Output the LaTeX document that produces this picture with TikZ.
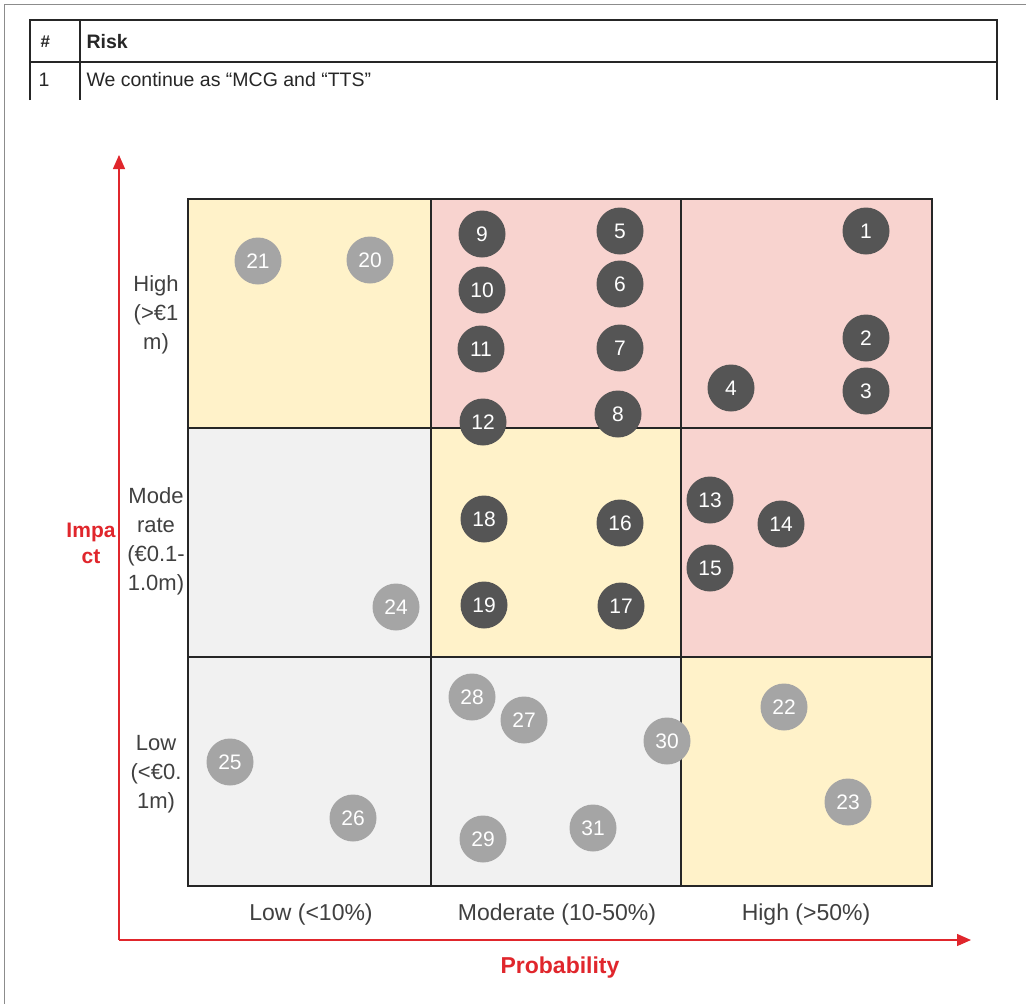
\documentclass[tikz,border=0pt]{standalone}
\usepackage{fontspec}
\setmainfont{Liberation Sans}
\usetikzlibrary{arrows.meta}
\definecolor{cellyellow}{HTML}{FFF2C9}
\definecolor{cellpink}{HTML}{F8D3CF}
\definecolor{cellgray}{HTML}{F1F1F1}
\definecolor{axisred}{HTML}{E0262C}
\definecolor{darkdot}{HTML}{555555}
\definecolor{lightdot}{HTML}{A5A5A5}
\definecolor{labelgray}{HTML}{404040}
\begin{document}
\begin{tikzpicture}[x=1pt,y=-1pt,
  dk/.style={circle,fill=darkdot,minimum size=47pt,inner sep=0pt,text=white,font=\fontsize{21}{21}\selectfont},
  lt/.style={circle,fill=lightdot,minimum size=47pt,inner sep=0pt,text=white,font=\fontsize{21}{21}\selectfont},
  cell/.style={draw=black!85,line width=1.6pt},
  rowlab/.style={align=center,text=labelgray,font=\fontsize{22}{29}\selectfont},
  collab/.style={text=labelgray,font=\fontsize{23}{26}\selectfont},
  axis/.style={draw=axisred,line width=1.3pt,-{Triangle[length=14pt,width=12pt]}},
  axlab/.style={text=axisred,font=\bfseries\fontsize{21}{26}\selectfont,align=center},
  tab/.style={font=\fontsize{19.5}{20}\selectfont,text=black!85,anchor=west}]
\useasboundingbox (0,0) rectangle (1026,1004);
\fill[white] (0,0) rectangle (1026,1004);
% page frame
\draw[black!45,line width=1pt] (1026,4) -- (4,4) -- (4,1004);

% risk table
\draw[black!85,line width=1.2pt] (30,100) -- (30,20) -- (997,20) -- (997,100);
\draw[black!85,line width=1.2pt] (30,62) -- (997,62);
\draw[black!85,line width=1.2pt] (80,20) -- (80,100);
\node[tab,font=\bfseries\fontsize{17}{18}\selectfont] (hnum) at (37,42) {\#};
\node[tab,font=\bfseries\fontsize{19.5}{20}\selectfont] (hrisk) at (83,42) {Risk};
\node[tab] (r1num) at (35,80) {1};
\node[tab] (r1txt) at (83,80) {We continue as “MCG and “TTS”};

% matrix cells
\fill[cellyellow] (188,199) rectangle (431,428);
\fill[cellpink] (431,199) rectangle (681,428);
\fill[cellpink] (681,199) rectangle (932,428);
\fill[cellgray] (188,428) rectangle (431,657);
\fill[cellyellow] (431,428) rectangle (681,657);
\fill[cellpink] (681,428) rectangle (932,657);
\fill[cellgray] (188,657) rectangle (431,886);
\fill[cellgray] (431,657) rectangle (681,886);
\fill[cellyellow] (681,657) rectangle (932,886);
\draw[cell] (188,199) rectangle (932,886);
\draw[cell] (431,199) -- (431,886);
\draw[cell] (681,199) -- (681,886);
\draw[cell] (188,428) -- (932,428);
\draw[cell] (188,657) -- (932,657);

% axes
\coordinate (origin) at (119,940);
\coordinate (ytip) at (119,155);
\coordinate (xtip) at (971,940);
\draw[axis] (origin) -- (ytip);
\draw[axis] (origin) -- (xtip);
\node[axlab] (impact) at (91,543) {Impa\\ct};
\node[axlab,font=\bfseries\fontsize{23}{26}\selectfont] (prob) at (560,968) {Probability};

% impact bands
\node[rowlab] (high) at (156,315) {High\\(>€1\\m)};
\node[rowlab] (mod) at (156,541) {Mode\\rate\\(€0.1-\\1.0m)};
\node[rowlab] (low) at (156,774) {Low\\(<€0.\\1m)};

% probability bands
\node[collab] (plow) at (311,915) {Low (<10\%)};
\node[collab] (pmod) at (557,915) {Moderate (10-50\%)};
\node[collab] (phigh) at (806,915) {High (>50\%)};

% risks
\node[dk] (k1) at (866,231) {1};
\node[dk] (k2) at (866,338) {2};
\node[dk] (k3) at (866,391) {3};
\node[dk] (k4) at (731,388) {4};
\node[dk] (k5) at (620,231) {5};
\node[dk] (k6) at (620,284) {6};
\node[dk] (k7) at (620,348) {7};
\node[dk] (k8) at (618,414) {8};
\node[dk] (k9) at (482,234) {9};
\node[dk] (k10) at (482,290) {10};
\node[dk] (k11) at (481,349) {11};
\node[dk] (k12) at (483,422) {12};
\node[dk] (k13) at (710,500) {13};
\node[dk] (k14) at (781,524) {14};
\node[dk] (k15) at (710,568) {15};
\node[dk] (k16) at (620,523) {16};
\node[dk] (k17) at (621,606) {17};
\node[dk] (k18) at (484,519) {18};
\node[dk] (k19) at (484,605) {19};
\node[lt] (k20) at (370,260) {20};
\node[lt] (k21) at (258,261) {21};
\node[lt] (k22) at (784,707) {22};
\node[lt] (k23) at (848,802) {23};
\node[lt] (k24) at (396,607) {24};
\node[lt] (k25) at (230,762) {25};
\node[lt] (k26) at (353,818) {26};
\node[lt] (k27) at (524,720) {27};
\node[lt] (k28) at (472,697) {28};
\node[lt] (k29) at (483,839) {29};
\node[lt] (k30) at (667,741) {30};
\node[lt] (k31) at (593,828) {31};
\end{tikzpicture}
\end{document}
